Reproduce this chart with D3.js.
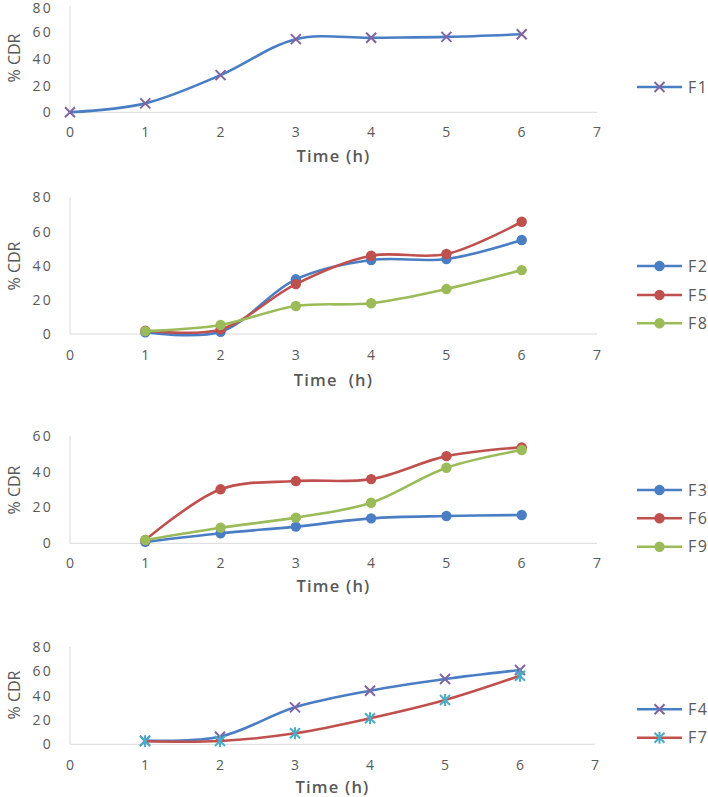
<!DOCTYPE html>
<html>
<head>
<meta charset="utf-8">
<script src="https://cdn.jsdelivr.net/npm/d3@7/dist/d3.min.js"></script>
<style>
html,body{margin:0;padding:0;background:#fff;}
svg{display:block;}
text{font-family:"Open Sans",sans-serif;fill:#595959;}
</style>
</head>
<body>
<svg id="chart" width="708" height="797"></svg>
<script>
// ---- data ----
const timeP1 = [0, 1, 2, 3, 4, 5, 6];
const time = [1, 2, 3, 4, 5, 6];
const F1 = [0, 6.7, 27.9, 54.9, 55.9, 56.6, 58.6];
const F2 = [1.0, 1.3, 32.0, 43.3, 43.9, 55.0];
const F5 = [2.0, 2.7, 29.2, 45.8, 46.8, 65.7];
const F8 = [1.7, 5.3, 16.4, 18.0, 26.3, 37.4];
const F3 = [0.8, 5.6, 9.3, 13.9, 15.2, 15.8];
const F6 = [1.8, 30.1, 34.7, 35.8, 48.6, 53.5];
const F9 = [1.8, 8.7, 14.3, 22.6, 42.1, 52.0];
const F4 = [3.0, 6.2, 30.3, 43.9, 53.5, 60.9];
const F7 = [2.5, 2.7, 9.0, 21.3, 36.3, 56.2];
const xTicks = [0, 1, 2, 3, 4, 5, 6, 7];
const yTicks80 = [0, 20, 40, 60, 80];
const yTicks60 = [0, 20, 40, 60];
const xTitles = ["Time (h)", "Time  (h)", "Time (h)", "Time (h)"];
const yTitle = "% CDR";

// ---- styles ----
const C = {blue:"#4A7EC4", red:"#C0504D", green:"#9BBB59", purple:"#8064A2", cyan:"#4BACC6"};

const panels = [
  {y0:112.3, yTop:5.7, yMax:80, yt:yTicks80, tickY:131.7, titleY:156.7, x7:597, legY:[87], title:xTitles[0], labY:58,
   series:[{name:"F1", x:timeP1, v:F1, line:C.blue, marker:"x", mc:C.purple}]},
  {y0:334, yTop:197.3, yMax:80, yt:yTicks80, tickY:355, titleY:380, x7:597, legY:[266,295,323.3], title:xTitles[1], labY:266,
   series:[{name:"F2", x:time, v:F2, line:C.blue, marker:"o", mc:C.blue},
           {name:"F5", x:time, v:F5, line:C.red, marker:"o", mc:C.red},
           {name:"F8", x:time, v:F8, line:C.green, marker:"o", mc:C.green}]},
  {y0:543.3, yTop:435.7, yMax:60, yt:yTicks60, tickY:563.3, titleY:586.7, x7:597, legY:[490,518.3,546.7], title:xTitles[2], labY:490,
   series:[{name:"F3", x:time, v:F3, line:C.blue, marker:"o", mc:C.blue},
           {name:"F6", x:time, v:F6, line:C.red, marker:"o", mc:C.red},
           {name:"F9", x:time, v:F9, line:C.green, marker:"o", mc:C.green}]},
  {y0:744.3, yTop:646.7, yMax:80, yt:yTicks80, tickY:765, titleY:787.5, x7:595, legY:[709.3,737.7], title:xTitles[3], labY:695,
   series:[{name:"F4", x:time, v:F4, line:C.blue, marker:"x", mc:C.purple},
           {name:"F7", x:time, v:F7, line:C.red, marker:"star", mc:C.cyan}]}
];

const svg = d3.select("#chart");

function drawMarker(g, type, color, cx, cy) {
  if (type === "o") {
    g.append("circle").attr("cx", cx).attr("cy", cy).attr("r", 5.2).attr("fill", color);
  } else {
    const s = 5;
    g.append("path")
      .attr("d", `M${cx-s},${cy-s}L${cx+s},${cy+s}M${cx-s},${cy+s}L${cx+s},${cy-s}` +
        (type === "star" ? `M${cx},${cy-s-1}L${cx},${cy+s+1}` : ""))
      .attr("stroke", color).attr("stroke-width", 2).attr("fill", "none");
  }
}

panels.forEach(p => {
  const x = d3.scaleLinear().domain([0, 7]).range([70, p.x7]);
  const y = d3.scaleLinear().domain([0, p.yMax]).range([p.y0, p.yTop]);
  const g = svg.append("g");

  g.append("line").attr("x1", x(0)).attr("x2", x(0)).attr("y1", y(p.yMax)).attr("y2", y(0))
    .attr("stroke", "#D9D9D9").attr("stroke-width", 1);
  g.append("line").attr("x1", x(0)).attr("x2", x(7)).attr("y1", y(0)).attr("y2", y(0))
    .attr("stroke", "#D9D9D9").attr("stroke-width", 1);

  g.selectAll(".yt").data(p.yt).enter().append("text")
    .attr("x", 53).attr("y", d => Math.max(y(d), 7.5)).attr("dy", "0.36em")
    .attr("text-anchor", "end").attr("font-size", 14).attr("letter-spacing", 2.2).text(d => d);
  g.selectAll(".xt").data(xTicks).enter().append("text")
    .attr("x", d => x(d) + 1).attr("y", p.tickY).attr("dy", "0.36em")
    .attr("text-anchor", "middle").attr("font-size", 14).attr("letter-spacing", 2.2).text(d => d);
  g.append("text").attr("x", (x(0) + x(7)) / 2).attr("y", p.titleY).attr("dy", "0.35em")
    .attr("text-anchor", "middle").attr("font-size", 16.5).attr("font-weight", 600).attr("letter-spacing", 1.2)
    .attr("xml:space", "preserve").style("white-space", "pre").text(p.title);
  g.append("text").attr("transform", `translate(14,${p.labY}) rotate(-90)`)
    .attr("text-anchor", "middle").attr("dy", "0.35em").attr("font-size", 16).attr("fill", "#505050").text(yTitle);

  const line = d3.line().curve(d3.curveCatmullRom.alpha(0.5))
    .x(d => x(d[0])).y(d => y(d[1]));

  p.series.forEach((s, i) => {
    const pts = s.x.map((t, j) => [t, s.v[j]]);
    g.append("path").attr("d", line(pts)).attr("fill", "none")
      .attr("stroke", s.line).attr("stroke-width", 2.6).attr("stroke-linecap", "round");
    pts.forEach(d => drawMarker(g, s.marker, s.mc, x(d[0]), y(d[1])));

    const ly = p.legY[i];
    g.append("line").attr("x1", 637).attr("x2", 682).attr("y1", ly).attr("y2", ly)
      .attr("stroke", s.line).attr("stroke-width", 2.6);
    drawMarker(g, s.marker, s.mc, 659.5, ly);
    g.append("text").attr("x", 688).attr("y", ly).attr("dy", "0.36em")
      .attr("font-size", 16).attr("letter-spacing", 1.5).text(s.name);
  });
});
</script>
</body>
</html>
